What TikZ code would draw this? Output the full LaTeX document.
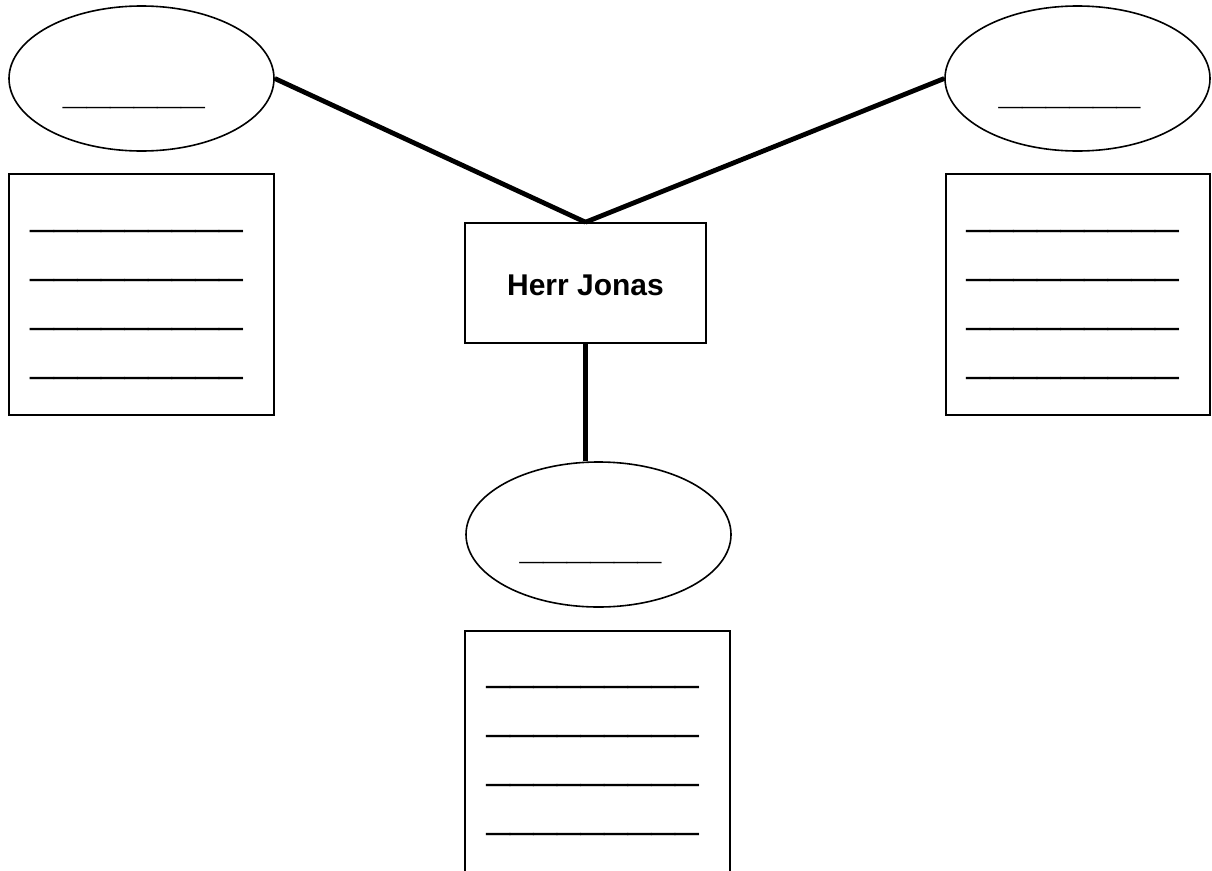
\documentclass[tikz,border=0pt]{standalone}
\usepackage{fontspec}
\setmainfont{Liberation Sans}
\usetikzlibrary{shapes.geometric}
\newcommand{\rectblank}{\scalebox{1}[0.85]{\_\_\_\_\_\_\_\_\_}}
\newcommand{\ovalblank}{\scalebox{1}[0.5]{\_\_\_\_\_\_}}
\begin{document}
\begin{tikzpicture}[x=1pt,y=-1pt,
  bubble/.style={draw, ellipse, line width=1.6pt, minimum width=265pt, minimum height=145pt, inner sep=0pt},
  panel/.style={draw, rectangle, line width=1.6pt, minimum width=265pt, minimum height=241pt, inner sep=0pt},
  namebox/.style={draw, rectangle, line width=1.6pt, minimum width=241pt, minimum height=120pt, inner sep=0pt, text height=25.5pt, text depth=0pt, font=\fontsize{30}{36}\selectfont\bfseries},
  conn/.style={line width=4.8pt},
  blankline/.style={inner sep=0pt, anchor=base west, font=\fontsize{42.4}{50}\selectfont}]
\useasboundingbox (0,0) rectangle (1212,870);
\fill[white] (0,0) rectangle (1212,870);

% ellipses
\node[bubble] (le) at (141.5,78.5) {};
\node[bubble] (re) at (1077.5,78.5) {};
\node[bubble] (be) at (598.5,534.5) {};

% central box
\node[namebox] (hj) at (585.5,283) {Herr Jonas};

% panels
\node[panel] (lr) at (141.5,294.5) {};
\node[panel, minimum width=264pt] (rr) at (1078,294.5) {};
\node[panel] (br) at (597.5,751.5) {};

% blanks in ellipses
\node[blankline] (leb) at (63,104.5) {\ovalblank};
\node[blankline] (reb) at (998.6,104.5) {\ovalblank};
\node[blankline] (beb) at (519.6,559.5) {\ovalblank};

% blanks in panels
\foreach \i/\y in {1/229,2/278,3/327,4/376}{
  \node[blankline] (lrb\i) at (30.3,\y-3.6) {\rectblank};
  \node[blankline] (rrb\i) at (966.3,\y-3.6) {\rectblank};
}
\foreach \i/\y in {1/685,2/734,3/783,4/832}{
  \node[blankline] (brb\i) at (486.3,\y-3.6) {\rectblank};
}

% connectors
\draw[conn] (le.east) -- (hj.north);
\draw[conn] (re.west) -- (hj.north);
\draw[conn] (hj.south) -- (hj.south |- be.north);
\end{tikzpicture}
\end{document}
